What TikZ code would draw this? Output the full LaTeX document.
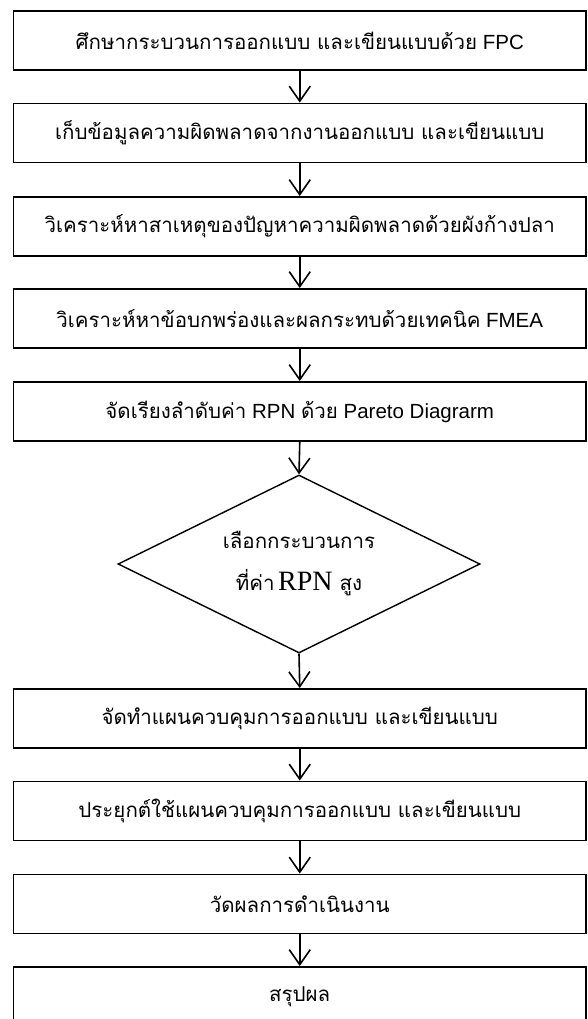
\documentclass[tikz,border=0pt]{standalone}
\usepackage{fontspec}
\setmainfont{Liberation Sans}
\newfontfamily\thai[Script=Thai]{Loma}
\newfontfamily\latinserif{Liberation Serif}
\usetikzlibrary{arrows.meta,shapes.geometric}

\begin{document}
\begin{tikzpicture}[x=1pt,y=-1pt]
\tikzset{
  stepbox/.style={draw, line width=1.9pt, minimum width=572.5pt,
    minimum height=59pt, inner sep=0pt, font=\fontsize{20.5}{24}\selectfont},
  decision/.style={draw, diamond, line width=1.4pt, aspect=2,
    minimum width=362pt, minimum height=178pt, inner sep=0pt,
    align=center, font=\thai\fontsize{20.5}{42}\selectfont},
  flow/.style={line width=1.6pt,
    -{Straight Barb[length=15pt,width=21pt,line width=1.6pt]}}
}
\useasboundingbox (0,0) rectangle (587,1019);

% process steps
\node[stepbox] (s1) at (299.75,40.5)  {{\thai ศึกษากระบวนการออกแบบ และเขียนแบบด้วย} FPC};
\node[stepbox] (s2) at (299.75,133)   {\thai เก็บข้อมูลความผิดพลาดจากงานออกแบบ และเขียนแบบ};
\node[stepbox] (s3) at (299.75,226.5) {\thai วิเคราะห์หาสาเหตุของปัญหาความผิดพลาดด้วยผังก้างปลา};
\node[stepbox] (s4) at (299.75,318.5) {{\thai วิเคราะห์หาข้อบกพร่องและผลกระทบด้วยเทคนิค} FMEA};
\node[stepbox] (s5) at (299.75,411.5) {{\thai จัดเรียงลำดับค่า} RPN {\thai ด้วย} Pareto Diagrarm};

% selection step
\node[decision] (d) at (299,564) {เลือกกระบวนการ\\ที่ค่า\,{\latinserif\fontsize{28}{30}\selectfont RPN} สูง};

% control plan and evaluation
\node[stepbox] (s6) at (299.75,718.5) {\thai จัดทำแผนควบคุมการออกแบบ และเขียนแบบ};
\node[stepbox] (s7) at (299.75,811)   {\thai ประยุกต์ใช้แผนควบคุมการออกแบบ และเขียนแบบ};
\node[stepbox] (s8) at (299.75,904)   {\thai วัดผลการดำเนินงาน};
\node[stepbox] (s9) at (299.75,996.5) {\thai สรุปผล};

% connectors
\draw[flow] (s1.south) -- (s2.north);
\draw[flow] (s2.south) -- (s3.north);
\draw[flow] (s3.south) -- (s4.north);
\draw[flow] (s4.south) -- (s5.north);
\draw[flow] (s5.south) -- (d.north);
\draw[flow] (d.south) -- (s6.north);
\draw[flow] (s6.south) -- (s7.north);
\draw[flow] (s7.south) -- (s8.north);
\draw[flow] (s8.south) -- (s9.north);
\end{tikzpicture}
\end{document}
